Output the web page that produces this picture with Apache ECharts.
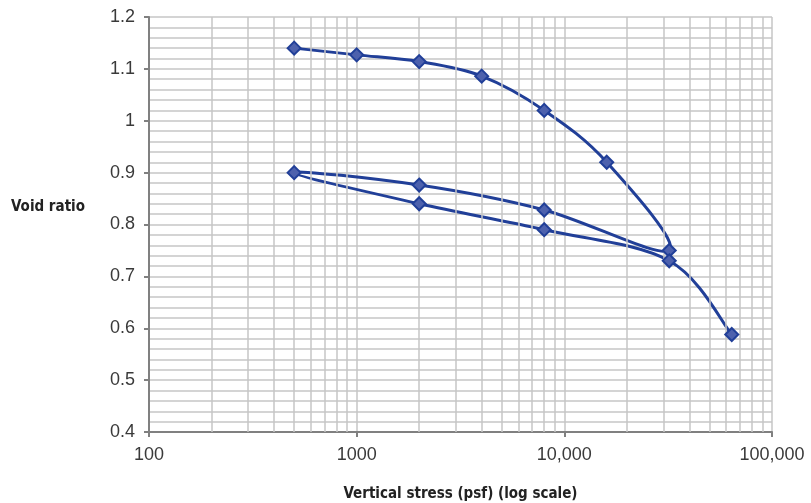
<!DOCTYPE html>
<html><head><meta charset="utf-8">
<script src="https://cdn.jsdelivr.net/npm/echarts@6/dist/echarts.min.js"></script>
<style>html,body{margin:0;padding:0;background:#fff}#c{width:811px;height:503px}</style>
</head><body><div id="c"></div>
<script>
// Data
const stress = [500, 1000, 2000, 4000, 8000, 16000, 32000, 8000, 2000, 500, 2000, 8000, 32000, 64000];
const voidRatio = [1.14, 1.127, 1.114, 1.086, 1.02, 0.92, 0.75, 0.828, 0.876, 0.9, 0.84, 0.79, 0.73, 0.588];
const xMinorGrid = [200,300,400,500,600,700,800,900,2000,3000,4000,5000,6000,7000,8000,9000,20000,30000,40000,50000,60000,70000,80000,90000];
const xTickLabels = {100: '100', 1000: '1000', 10000: '10,000', 100000: '100,000'};
const xTitle = 'Vertical stress (psf) (log scale)';
const yTitle = 'Void ratio';

const TITLE_FONT = "'DejaVu Sans Condensed','Liberation Sans Narrow','Roboto Condensed',sans-serif";
const LABEL_FONT = "'Liberation Sans',Arial,sans-serif";
const gridColor = '#c6c6c6';
const axisColor = '#808080';
const lineColor = '#213f98';

const pts = stress.map((s, i) => [s, voidRatio[i]]);

// Smooth line through the points (Catmull-Rom style, like a spreadsheet's smoothed scatter line)
function renderSegment(params, api) {
  const i = params.dataIndex;
  const n = pts.length;
  if (i >= n - 1) return null;
  const P = k => api.coord(pts[Math.max(0, Math.min(n - 1, k))]);
  const p0 = P(i - 1), p1 = P(i), p2 = P(i + 1), p3 = P(i + 2);
  const c1 = [p1[0] + (p2[0] - p0[0]) / 6, p1[1] + (p2[1] - p0[1]) / 6];
  const c2 = [p2[0] - (p3[0] - p1[0]) / 6, p2[1] - (p3[1] - p1[1]) / 6];
  return {
    type: 'bezierCurve',
    shape: {x1: p1[0], y1: p1[1], x2: p2[0], y2: p2[1], cpx1: c1[0], cpy1: c1[1], cpx2: c2[0], cpy2: c2[1]},
    style: {stroke: lineColor, lineWidth: 3, fill: 'none', lineCap: 'round'}
  };
}

const chart = echarts.init(document.getElementById('c'), null, {renderer: 'canvas'});
chart.setOption({
  animation: false,
  title: {text: yTitle, left: 11, top: 200, padding: 0,
    textStyle: {fontFamily: TITLE_FONT, fontWeight: 'bold', fontSize: 15, color: '#222'}},
  grid: {left: 149, right: 39, top: 17, bottom: 71, outerBoundsMode: 'none', containLabel: false},
  xAxis: {
    type: 'log', logBase: 10, min: 100, max: 100000,
    name: xTitle, nameLocation: 'middle', nameGap: 55,
    nameTextStyle: {fontFamily: TITLE_FONT, fontWeight: 'bold', fontSize: 15, color: '#222'},
    axisLine: {show: true, lineStyle: {color: axisColor, width: 2}},
    axisTick: {show: true, length: 5, lineStyle: {color: axisColor, width: 2}},
    axisLabel: {fontFamily: LABEL_FONT, fontSize: 18, color: '#3a3a3a', margin: 14,
      formatter: v => xTickLabels[Math.round(v)] || ''},
    splitLine: {show: true, lineStyle: {color: gridColor, width: 1.5}},
    minorTick: {show: false}, minorSplitLine: {show: false}
  },
  yAxis: {
    type: 'value', min: 0.4, max: 1.2, interval: 0.1,
    axisLine: {show: true, lineStyle: {color: axisColor, width: 2}},
    axisTick: {show: true, length: 5, lineStyle: {color: axisColor, width: 2}},
    axisLabel: {fontFamily: LABEL_FONT, fontSize: 18, color: '#3a3a3a', margin: 14,
      formatter: v => String(Math.round(v * 10) / 10)},
    splitLine: {show: true, lineStyle: {color: gridColor, width: 1.5}},
    minorTick: {show: false, splitNumber: 5},
    minorSplitLine: {show: true, lineStyle: {color: gridColor, width: 1.5}}
  },
  series: [
    {
      type: 'line', data: [], z: 1, silent: true,
      markLine: {
        silent: true, symbol: ['none', 'none'], label: {show: false},
        lineStyle: {color: gridColor, width: 1.5, type: 'solid'},
        data: xMinorGrid.map(v => ({xAxis: v}))
      }
    },
    {
      type: 'custom', z: 4, silent: true,
      data: pts,
      encode: {x: 0, y: 1},
      renderItem: renderSegment
    },
    {
      type: 'scatter', z: 5,
      data: pts,
      symbol: 'diamond', symbolSize: 13,
      itemStyle: {color: '#4d61ad', borderColor: lineColor, borderWidth: 2, opacity: 1}
    }
  ]
});
</script></body></html>
